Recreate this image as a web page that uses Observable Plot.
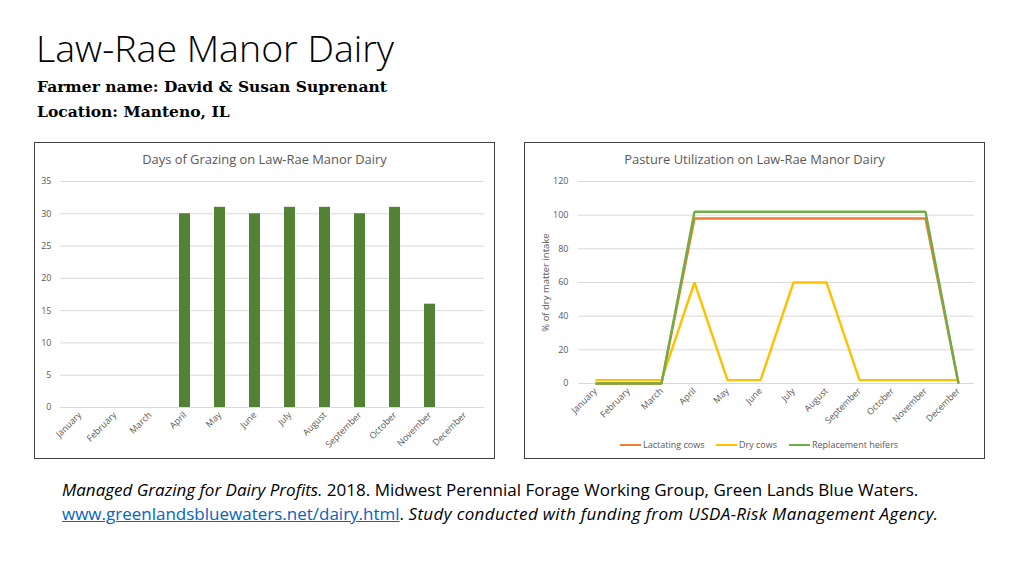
<!DOCTYPE html>
<html><head><meta charset="utf-8">
<script src="https://cdn.jsdelivr.net/npm/d3@7"></script>
<script src="https://cdn.jsdelivr.net/npm/@observablehq/plot@0.6"></script>
<style>
body{margin:0;background:#fff;}
#page{position:relative;width:1024px;height:576px;overflow:hidden;background:#fff;font-family:"Open Sans",sans-serif;}
.abs{position:absolute;white-space:nowrap;}
#title{left:36px;top:29px;font-size:37.5px;font-weight:300;color:#000;line-height:1;}
.sub{left:37px;font-family:"DejaVu Serif",serif;font-weight:bold;font-size:15.5px;line-height:1;color:#000;}
#caption{left:62px;top:477.5px;font-size:17px;line-height:24px;color:#000;}
#caption a{color:#0563C1;text-decoration:underline;}
#caption i.wide{letter-spacing:0.35px;}
.box{position:absolute;top:142px;width:459px;height:315px;border:1px solid #404040;background:#fff;}
.box svg{position:absolute;left:0;top:0;}
.ctitle{position:absolute;left:0;width:100%;text-align:center;top:10px;font-size:12.9px;line-height:1;color:#595959;}
.leg{position:absolute;top:297px;font-size:9px;line-height:10px;color:#595959;display:flex;align-items:center;}
.leg span.sw{display:inline-block;width:21px;height:2.5px;margin-right:2px;}
</style>
</head><body>
<div id="page">
  <div id="title" class="abs">Law-Rae Manor Dairy</div>
  <div class="abs sub" style="top:79px">Farmer name: David &amp; Susan Suprenant</div>
  <div class="abs sub" style="top:104px">Location: Manteno, IL</div>

  <div class="box" id="box1" style="left:34px">
    <div class="ctitle">Days of Grazing on Law-Rae Manor Dairy</div>
  </div>
  <div class="box" id="box2" style="left:524px">
    <div class="ctitle">Pasture Utilization on Law-Rae Manor Dairy</div>
  </div>

  <div id="caption" class="abs"><i>Managed Grazing for Dairy Profits.</i> 2018. Midwest Perennial Forage Working Group, Green Lands Blue Waters.<br><a>www.greenlandsbluewaters.net/dairy.html</a>. <i class="wide">Study conducted with funding from USDA-Risk Management Agency.</i></div>
</div>
<script>
const months = ["January","February","March","April","May","June","July","August","September","October","November","December"];
const grazingDays = [0,0,0,30,31,30,31,31,30,31,16,0];
const grazingTicks = [0,5,10,15,20,25,30,35];

const seriesNames = ["Lactating cows","Dry cows","Replacement heifers"];
const lactatingCows = [0,0,0,98,98,98,98,98,98,98,98,0];
const dryCows = [2,2,2,60,2,2,60,60,2,2,2,2];
const replacementHeifers = [0,0,0,102,102,102,102,102,102,102,102,0];
const seriesColors = ["#ED7D31","#FFC000","#70AD47"];
const pctTicks = [0,20,40,60,80,100,120];
const yLabel = "% of dry matter intake";

const baseStyle = {fontFamily:"'Open Sans', sans-serif", fontSize:"9px", color:"#595959", background:"transparent", overflow:"visible"};

// Chart 1: bars
const grazing = months.map((m,i)=>({month:m, days:grazingDays[i]}));
const chart1 = Plot.plot({
  width:459, height:315,
  marginLeft:25, marginRight:10, marginTop:38, marginBottom:51,
  style: baseStyle,
  x:{domain:months, paddingInner:0.69, paddingOuter:0.345, label:null},
  y:{domain:[0,35], label:null},
  marks:[
    Plot.gridY(grazingTicks, {stroke:"#d9d9d9", strokeOpacity:1, strokeWidth:1}),
    Plot.barY(grazing, {x:"month", y:"days", fill:"#548235"}),
    Plot.axisY(grazingTicks, {tickSize:0, tickPadding:9, label:null}),
    Plot.axisX({tickRotate:-45, tickSize:0, tickPadding:6, label:null})
  ]
});
document.getElementById("box1").appendChild(chart1);

// Chart 2: lines
const seriesValues = [lactatingCows, dryCows, replacementHeifers];
const lineMarks = seriesValues.map((vals,k)=>
  Plot.lineY(months.map((m,i)=>({month:m, value:vals[i]})), {x:"month", y:"value", stroke:seriesColors[k], strokeWidth:2.4, strokeLinejoin:"miter", strokeLinecap:"butt"})
);
const chart2 = Plot.plot({
  width:459, height:315,
  marginLeft:53, marginRight:10, marginTop:38, marginBottom:75,
  style: baseStyle,
  x:{type:"point", domain:months, padding:0.5, label:null},
  y:{domain:[0,120], label:null},
  marks:[
    Plot.gridY(pctTicks, {stroke:"#d9d9d9", strokeOpacity:1, strokeWidth:1}),
    ...lineMarks,
    Plot.axisY(pctTicks, {tickSize:0, tickPadding:10, label:null}),
    Plot.axisX({tickRotate:-45, tickSize:0, tickPadding:6, label:null}),
    Plot.text([yLabel], {frameAnchor:"left", textAnchor:"middle", rotate:-90, dx:-33, fill:"#595959", fontSize:9.5})
  ]
});
const box2 = document.getElementById("box2");
box2.appendChild(chart2);

// legend
const legLefts = [95, 191, 264];
seriesNames.forEach((name,k)=>{
  const d = document.createElement("div");
  d.className = "leg";
  d.style.left = legLefts[k] + "px";
  d.innerHTML = `<span class="sw" style="background:${seriesColors[k]}"></span>${name}`;
  box2.appendChild(d);
});
</script>
</body></html>
